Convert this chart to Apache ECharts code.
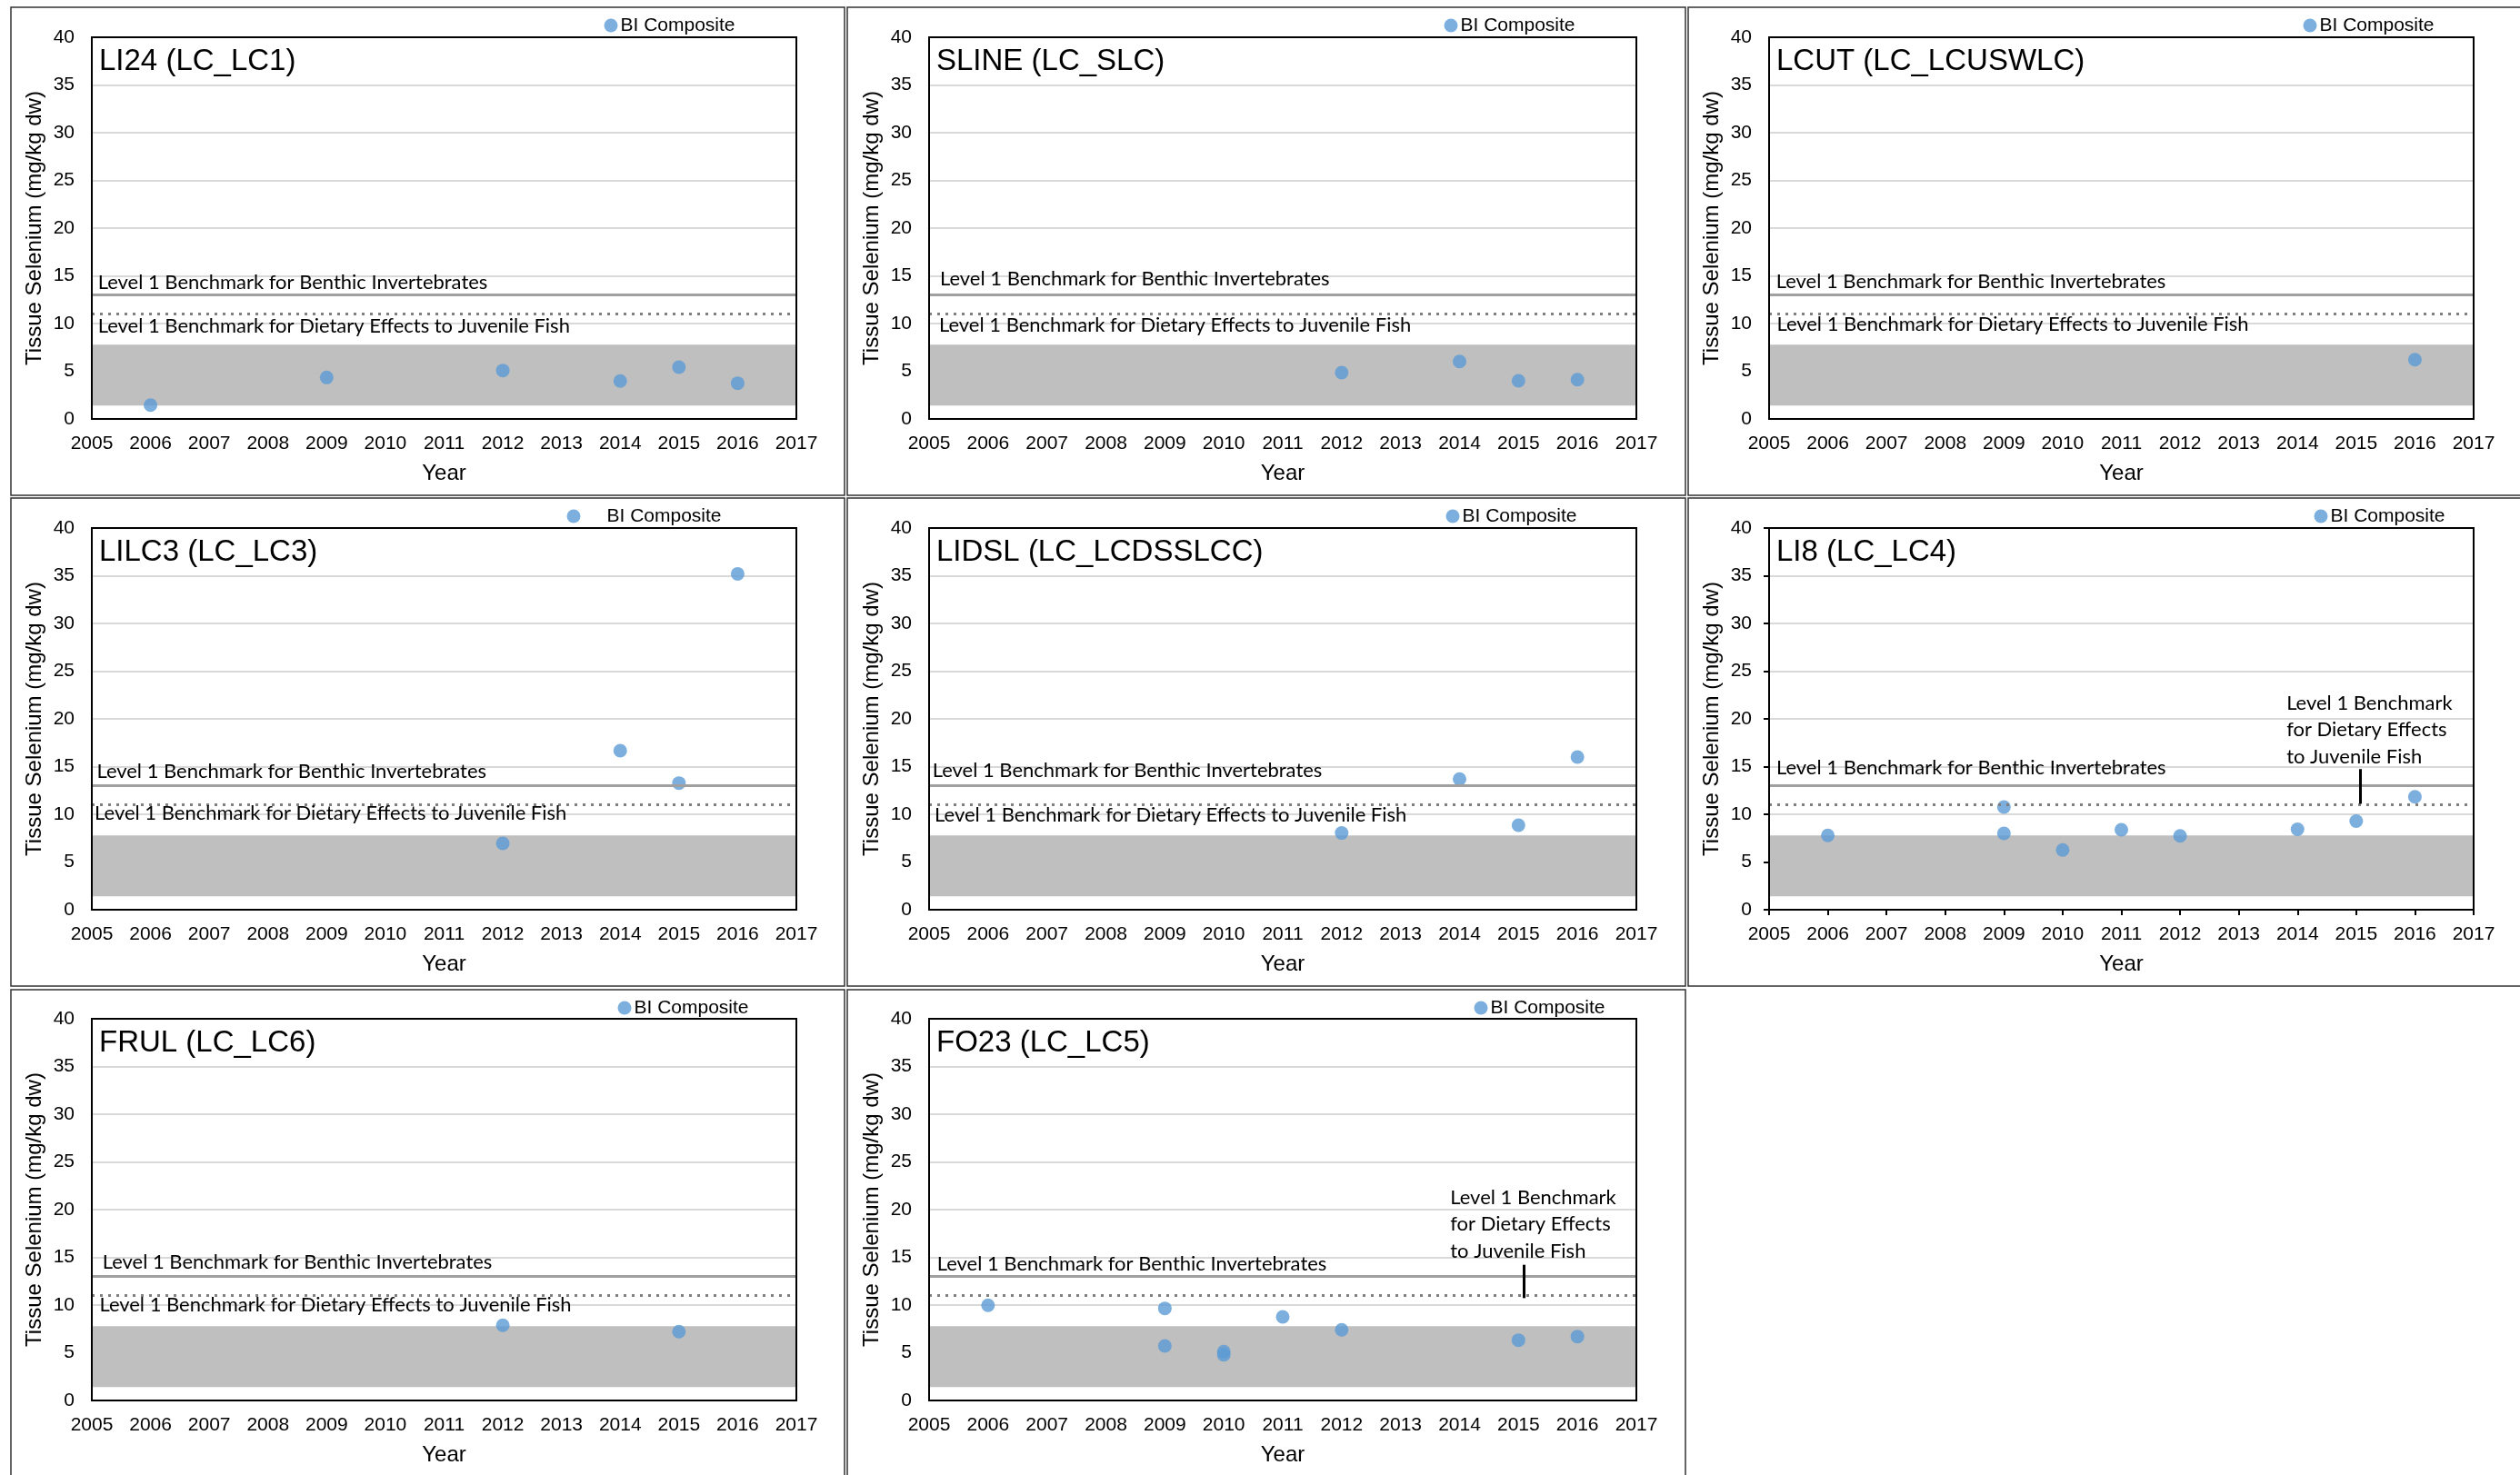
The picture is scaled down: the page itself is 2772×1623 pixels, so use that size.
<!DOCTYPE html>
<html>
<head>
<meta charset="utf-8">
<script src="https://cdn.jsdelivr.net/npm/echarts@6/dist/echarts.min.js"></script>
<style>
html,body{margin:0;padding:0;background:#fff;}
#chart{width:2772px;height:1623px;}
</style>
</head>
<body>
<div id="chart"></div>
<script>
// ---------------- DATA ----------------
const seriesName = 'BI Composite';
const panelTitles = ['LI24 (LC_LC1)', 'SLINE (LC_SLC)', 'LCUT (LC_LCUSWLC)', 'LILC3 (LC_LC3)',
                     'LIDSL (LC_LCDSSLCC)', 'LI8 (LC_LC4)', 'FRUL (LC_LC6)', 'FO23 (LC_LC5)'];

const years_LI24  = [2006, 2009, 2012, 2014, 2015, 2016];
const se_LI24     = [1.45, 4.35, 5.08, 3.97, 5.43, 3.75];
const years_SLINE = [2012, 2014, 2015, 2016];
const se_SLINE    = [4.86, 6.03, 4.0, 4.12];
const years_LCUT  = [2016];
const se_LCUT     = [6.22];
const years_LILC3 = [2012, 2014, 2015, 2016];
const se_LILC3    = [6.95, 16.67, 13.27, 35.2];
const years_LIDSL = [2012, 2014, 2015, 2016];
const se_LIDSL    = [8.04, 13.69, 8.86, 16.0];
const years_LI8   = [2006, 2009, 2009, 2010, 2011, 2012, 2014, 2015, 2016];
const se_LI8      = [7.78, 10.76, 8.0, 6.26, 8.38, 7.74, 8.43, 9.29, 11.84];
const years_FRUL  = [2012, 2015];
const se_FRUL     = [7.88, 7.21];
const years_FO23  = [2006, 2009, 2009, 2010, 2010, 2011, 2012, 2015, 2016];
const se_FO23     = [9.97, 9.65, 5.71, 5.11, 4.79, 8.76, 7.4, 6.32, 6.7];

const yearTickLabels = ['2005','2006','2007','2008','2009','2010','2011','2012','2013','2014','2015','2016','2017'];
const seTickLabels   = ['0','5','10','15','20','25','30','35','40'];

const benthicBenchmark = 13;
const dietaryBenchmark = 11;
const normalRangeLow = 1.4;
const normalRangeHigh = 7.78;

const benthicText = 'Level 1 Benchmark for Benthic Invertebrates';
const dietaryText = 'Level 1 Benchmark for Dietary Effects to Juvenile Fish';
const dietaryNoteLines = ['Level 1 Benchmark', 'for Dietary Effects', 'to Juvenile Fish'];

const xAxisName = 'Year';
const yAxisName = 'Tissue Selenium (mg/kg dw)';

const panelYears = [years_LI24, years_SLINE, years_LCUT, years_LILC3, years_LIDSL, years_LI8, years_FRUL, years_FO23];
const panelValues = [se_LI24, se_SLINE, se_LCUT, se_LILC3, se_LIDSL, se_LI8, se_FRUL, se_FO23];

// ---------------- LAYOUT / STYLE ----------------
const AR = 'Liberation Sans, Arial, sans-serif';
const CALFAM = 'Lato, Carlito, Calibri, sans-serif';
const COL_L = [101, 1022, 1946];
const COL_W = [775, 778, 775];
const ROW_T = [41, 581, 1121];
const PLOT_H = 420;
const panelCell = [[0,0],[0,1],[0,2],[1,0],[1,1],[1,2],[2,0],[2,1]];
const legendCenters = [[672,28],[1596,28],[2541,28],[631,568],[1598,568],[2553,568],[687,1109],[1629,1109]];
const legendTextShift = [0,0,0,26,0,0,0,0];
// [benthic x-start, benthic center above line, dietary x-start, dietary center below line]
const labelOffsets = [
  [6.7, 13.8, 6.7, 13.8],
  [12, 17.8, 11, 12.8],
  [7.7, 14.5, 8.4, 11.8],
  [5.4, 15.5, 3.1, 9.1],
  [3.7, 16.9, 6.1, 11.5],
  [8, 19.9, 0, 0],
  [11.7, 15.5, 8.4, 10.8],
  [8.7, 13.8, 0, 0]
];
const dietaryInline = [true, true, true, true, true, false, true, false];
const ticksOn = [false, false, false, false, false, true, false, false];
// annotation placement (data units): text anchor (bottom-left) and pointer line
const notes = {
  5: {text: [2013.82, 14.57], line: [2015.07, 14.74, 11.1]},
  7: {text: [2013.85, 14.2], line: [2015.09, 14.22, 10.73]}
};

// size the Calibri-substitute so its width matches the original labels
const ctx = document.createElement('canvas').getContext('2d');
ctx.font = '100px Lato';
const wB = ctx.measureText(benthicText).width;
const wD = ctx.measureText(dietaryText).width;
const CAL = ((100 * 431 / wB) + (100 * 516.6 / wD)) / 2;
const CAL_LH = Math.round(CAL);

const xMin = Number(yearTickLabels[0]);
const xMax = Number(yearTickLabels[yearTickLabels.length - 1]);
const xInt = Number(yearTickLabels[1]) - xMin;
const yMin = Number(seTickLabels[0]);
const yMax = Number(seTickLabels[seTickLabels.length - 1]);
const yInt = Number(seTickLabels[1]) - yMin;

const option = {
  animation: false,
  backgroundColor: '#fff',
  title: [], grid: [], xAxis: [], yAxis: [], legend: [], series: [], graphic: []
};

panelTitles.forEach((title, i) => {
  const [r, c] = panelCell[i];
  const left = COL_L[c], top = ROW_T[r];
  option.grid.push({
    left: left, top: top, width: COL_W[c], height: PLOT_H,
    show: true, borderColor: '#000', borderWidth: 2, backgroundColor: 'transparent', z: 10
  });
  option.title.push({
    text: title, left: left + 8, top: top + 10, padding: 0,
    textStyle: {fontFamily: AR, fontSize: 33, fontWeight: 'normal', color: '#000'}
  });
  option.xAxis.push({
    type: 'value', gridIndex: i, min: xMin, max: xMax, interval: xInt,
    name: xAxisName, nameLocation: 'middle', nameGap: 48,
    nameTextStyle: {fontFamily: AR, fontSize: 24, color: '#000', lineHeight: 24},
    axisLine: {show: false},
    axisTick: {show: ticksOn[i], length: 6, lineStyle: {color: '#000', width: 2}},
    splitLine: {show: false},
    axisLabel: {formatter: v => String(v), margin: 17, fontFamily: AR, fontSize: 21, color: '#000'}
  });
  option.yAxis.push({
    type: 'value', gridIndex: i, min: yMin, max: yMax, interval: yInt,
    name: yAxisName, nameLocation: 'middle', nameGap: 51,
    nameTextStyle: {fontFamily: AR, fontSize: 24, color: '#000', lineHeight: 24},
    axisLine: {show: false},
    axisTick: {show: ticksOn[i], length: 6, lineStyle: {color: '#000', width: 2}},
    splitLine: {show: true, lineStyle: {color: '#d9d9d9', width: 2}},
    axisLabel: {margin: 19, fontFamily: AR, fontSize: 21, color: '#000'}
  });
  const [lx, ly] = legendCenters[i];
  option.legend.push({
    data: [seriesName], left: lx - 7.5, top: ly - 10.5, padding: 0,
    itemWidth: 15, itemHeight: 15, icon: 'circle', selectedMode: false,
    textStyle: {fontFamily: AR, fontSize: 21, lineHeight: 21, color: '#000',
                padding: [0, 0, 0, legendTextShift[i] - 2]}
  });

  const off = labelOffsets[i];
  const mlData = [
    {yAxis: benthicBenchmark,
     lineStyle: {color: '#a0a0a0', width: 3, type: 'solid'},
     label: {show: true, formatter: benthicText, position: 'insideStartTop',
             distance: [off[0], off[1] - CAL_LH / 2],
             fontFamily: CALFAM, fontSize: CAL, lineHeight: CAL_LH, color: '#000'}},
    {yAxis: dietaryBenchmark,
     lineStyle: {color: '#7f7f7f', width: 3, type: [3, 6], cap: 'butt'},
     label: dietaryInline[i] ? {show: true, formatter: dietaryText, position: 'insideStartBottom',
             distance: [off[2], off[3] - CAL_LH / 2],
             fontFamily: CALFAM, fontSize: CAL, lineHeight: CAL_LH, color: '#000'} : {show: false}}
  ];
  const helper = {
    type: 'scatter', name: 'benchmarks', xAxisIndex: i, yAxisIndex: i, data: [], z: 1, silent: true,
    markArea: {silent: true, itemStyle: {color: '#bfbfbf'},
               data: [[{yAxis: normalRangeLow}, {yAxis: normalRangeHigh}]]},
    markLine: {silent: true, symbol: ['none', 'none'], label: {show: false}, data: mlData}
  };
  const note = notes[i];
  if (note) {
    mlData.push([
      {coord: [note.line[0], note.line[1]], lineStyle: {color: '#000', width: 3, type: 'solid'}, label: {show: false}},
      {coord: [note.line[0], note.line[2]]}
    ]);
    helper.markPoint = {
      silent: true, symbol: 'circle', symbolSize: 1, itemStyle: {color: 'rgba(0,0,0,0)'},
      data: [{coord: note.text,
              label: {show: true, position: [0, 0], align: 'left', verticalAlign: 'bottom',
                      formatter: dietaryNoteLines.join('\n'),
                      fontFamily: CALFAM, fontSize: CAL, lineHeight: 29.5, color: '#000'}}]
    };
  }
  option.series.push(helper);
  option.series.push({
    type: 'scatter', name: seriesName, xAxisIndex: i, yAxisIndex: i, z: 3,
    data: panelYears[i].map((y, k) => [y, panelValues[i][k]]),
    symbol: 'circle', symbolSize: 15, itemStyle: {color: '#5b9bd5'}
  });
});

// panel frames
const colX = [[12, 929], [932, 1854], [1857, 2790]];
const rowY = [[8, 545], [548, 1085], [1089, 1640]];
panelCell.forEach(([r, c]) => {
  option.graphic.push({
    type: 'rect', silent: true, z: 0,
    shape: {x: colX[c][0], y: rowY[r][0], width: colX[c][1] - colX[c][0], height: rowY[r][1] - rowY[r][0]},
    style: {fill: 'none', stroke: '#333', lineWidth: 1.5}
  });
});

const chart = echarts.init(document.getElementById('chart'));
chart.setOption(option);
</script>
</body>
</html>
